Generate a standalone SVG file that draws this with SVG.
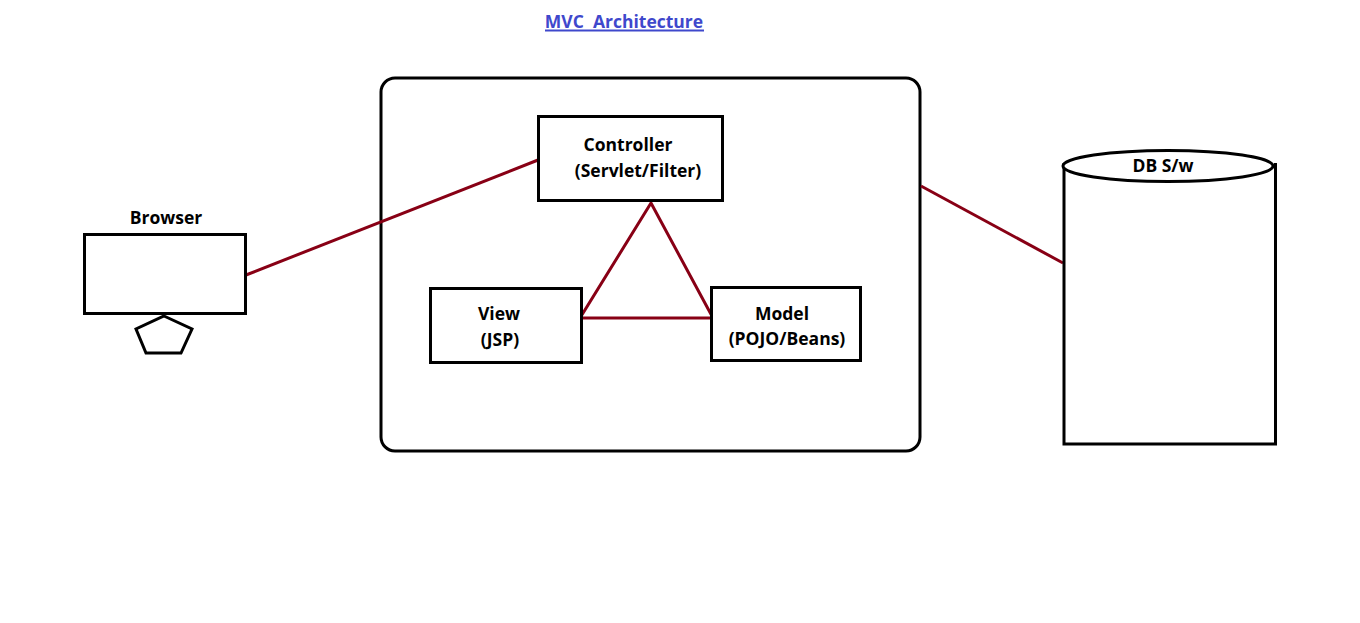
<svg xmlns="http://www.w3.org/2000/svg" width="1360" height="623" viewBox="0 0 1360 623">
<style>
.box{fill:#fff;stroke:#000;stroke-width:3}
.conn{stroke:#880015;stroke-width:3;fill:none}
.t{font-family:"Open Sans","Noto Sans",sans-serif;font-weight:bold;font-size:17.5px;fill:#000;text-anchor:middle}
.title{font-family:"Open Sans","Noto Sans",sans-serif;font-weight:bold;font-size:17.5px;fill:#3f48cc;text-anchor:middle}
</style>
<rect width="1360" height="623" fill="#fff"/>
<g id="title">
<text class="title" x="624" y="28" xml:space="preserve">MVC  Architecture</text>
<line x1="545" y1="30.5" x2="704" y2="30.5" stroke="#3f48cc" stroke-width="2"/>
</g>
<g id="container"><rect class="box" x="381" y="78" width="539" height="373" rx="14"/></g>
<g id="connectors">
<line class="conn" x1="246" y1="275" x2="538" y2="160"/>
<line class="conn" x1="921" y1="186" x2="1063" y2="263"/>
<polygon class="conn" points="651,203 580,318 713,318" stroke-linejoin="miter"/>
</g>
<g id="browser">
<text class="t" x="166" y="224">Browser</text>
<rect class="box" x="84.5" y="234.5" width="161" height="79"/>
<polygon class="box" points="164,316 192,329 181,353 146,353 136,329"/>
</g>
<g id="controller">
<rect class="box" x="538.5" y="116.5" width="184" height="84"/>
<text class="t" x="628" y="151">Controller</text>
<text class="t" x="638" y="177">(Servlet/Filter)</text>
</g>
<g id="view">
<rect class="box" x="430.5" y="288.5" width="151" height="74"/>
<text class="t" x="499" y="320">View</text>
<text class="t" x="500" y="346">(JSP)</text>
</g>
<g id="model">
<rect class="box" x="711.5" y="287.5" width="149" height="73"/>
<text class="t" x="782" y="320">Model</text>
<text class="t" x="787" y="345">(POJO/Beans)</text>
</g>
<g id="db">
<path d="M1064,163 V444 H1275.5 V163" fill="#fff" stroke="#000" stroke-width="3"/>
<ellipse cx="1168" cy="166" rx="105" ry="15.5" fill="#fff" stroke="#000" stroke-width="3"/>
<text class="t" x="1163" y="172">DB S/w</text>
</g>
</svg>
